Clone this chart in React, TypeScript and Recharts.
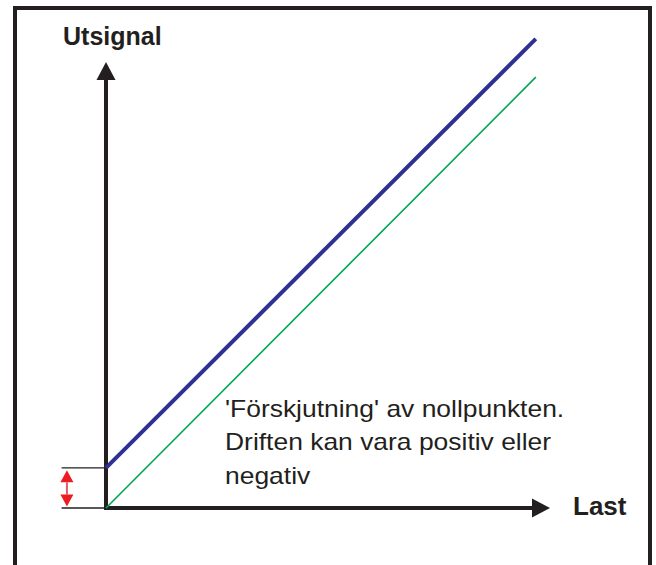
import { LineChart, Line, XAxis, YAxis, ReferenceLine } from 'recharts';

// values (Last on x, Utsignal on y)
const lastValues = [0, 96.8];
const idealSignal = [0, 96.6];
const driftSignal = [9, 105.2];

const xDomain = [-10, 100];
const yDomain = [0, 110];
const axisTip = { last: 100, signal: 100 };
const tickStart = -10;
const offsetMarkX = -8.8;

const noteLines = [
  "'Förskjutning' av nollpunkten.",
  'Driften kan vara positiv eller',
  'negativ',
];

const data = lastValues.map((last, i) => ({
  last,
  ideal: idealSignal[i],
  drift: driftSignal[i],
}));

const INK = '#231f20';
const FONT = '"Liberation Sans", Arial, sans-serif';

function AxisArrow(props: any) {
  const { x1, y1, x2, y2 } = props;
  const dx = x2 - x1;
  const dy = y2 - y1;
  const len = Math.hypot(dx, dy) || 1;
  const ux = dx / len;
  const uy = dy / len;
  const head = 18;
  const half = 9.5;
  const bx = x2 - ux * head;
  const by = y2 - uy * head;
  const px = -uy;
  const py = ux;
  return (
    <g>
      <line x1={x1} y1={y1} x2={bx} y2={by} stroke={INK} strokeWidth={4} strokeLinecap="square" />
      <polygon
        points={`${x2},${y2} ${bx + px * half},${by + py * half} ${bx - px * half},${by - py * half}`}
        fill={INK}
      />
    </g>
  );
}

function OffsetArrow(props: any) {
  const { x1, y1, y2 } = props;
  const top = Math.min(y1, y2) + 2.5;
  const bottom = Math.max(y1, y2) - 1.5;
  const x = x1;
  const head = 12;
  const half = 6.5;
  return (
    <g>
      <line x1={x} y1={top + head} x2={x} y2={bottom - head} stroke="#e35a66" strokeWidth={2} />
      <polygon points={`${x},${top} ${x - half},${top + head} ${x + half},${top + head}`} fill="#ed1c24" />
      <polygon points={`${x},${bottom} ${x - half},${bottom - head} ${x + half},${bottom - head}`} fill="#ed1c24" />
    </g>
  );
}

export default function App() {
  return (
    <div
      style={{
        position: 'absolute',
        left: 0,
        top: 0,
        width: 656,
        height: 565,
        overflow: 'hidden',
        background: '#fff',
      }}
    >
      <div
        style={{
          position: 'absolute',
          left: 13,
          top: 6,
          width: 639,
          height: 620,
          border: `4px solid ${INK}`,
          boxSizing: 'border-box',
        }}
      />
      <div style={{ position: 'absolute', left: 0, top: 0 }}>
        <LineChart
          width={656}
          height={565}
          data={data}
          margin={{ top: 17.4, right: 106, bottom: 57, left: 61.6 }}
        >
          <XAxis dataKey="last" type="number" domain={xDomain} hide />
          <YAxis type="number" domain={yDomain} hide />
          <ReferenceLine
            segment={[{ x: tickStart, y: 0 }, { x: 0, y: 0 }]}
            stroke={INK}
            strokeWidth={1.3}
          />
          <ReferenceLine
            segment={[{ x: tickStart, y: driftSignal[0] }, { x: 0, y: driftSignal[0] }]}
            stroke={INK}
            strokeWidth={1.3}
          />
          <ReferenceLine
            segment={[{ x: offsetMarkX, y: 0 }, { x: offsetMarkX, y: driftSignal[0] }]}
            shape={OffsetArrow}
          />
          <ReferenceLine
            segment={[{ x: 0, y: 0 }, { x: 0, y: axisTip.signal }]}
            shape={AxisArrow}
          />
          <ReferenceLine
            segment={[{ x: 0, y: 0 }, { x: axisTip.last, y: 0 }]}
            shape={AxisArrow}
          />
          <Line
            dataKey="ideal"
            stroke="#00a651"
            strokeWidth={1.6}
            dot={false}
            isAnimationActive={false}
          />
          <Line
            dataKey="drift"
            stroke="#2e3192"
            strokeWidth={4}
            dot={false}
            isAnimationActive={false}
          />
        </LineChart>
      </div>
      <svg
        width={656}
        height={565}
        style={{ position: 'absolute', left: 0, top: 0, pointerEvents: 'none' }}
      >
        <text x={63} y={45} fontFamily={FONT} fontSize={25} fontWeight="bold" fill={INK}>
          Utsignal
        </text>
        <text x={573} y={515} fontFamily={FONT} fontSize={26} fontWeight="bold" fill={INK}>
          Last
        </text>
        <g transform="translate(225 0) scale(1.15 1)">
          {noteLines.map((line, i) => (
            <text key={i} x={0} y={417 + i * 33.5} fontFamily={FONT} fontSize={23} fill={INK}>
              {line}
            </text>
          ))}
        </g>
      </svg>
    </div>
  );
}
